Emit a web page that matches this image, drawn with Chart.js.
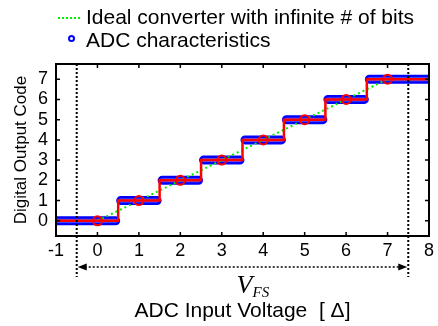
<!DOCTYPE html>
<html>
<head>
<meta charset="utf-8">
<script src="https://cdn.jsdelivr.net/npm/chart.js@4.4.0/dist/chart.umd.min.js"></script>
<style>
  html, body { margin: 0; padding: 0; background: #fff; }
</style>
</head>
<body>
<canvas id="adcChart" width="438" height="326"></canvas>
<script>
const xTicks = [-1, 0, 1, 2, 3, 4, 5, 6, 7, 8];
const yTicks = [0, 1, 2, 3, 4, 5, 6, 7];

// ideal converter, straight line
const idealIn = [0, 7];
const idealOut = [0, 7];

// quantizer staircase (red) and its circled points
const stairIn = [-1, 0, 1, 2, 3, 4, 5, 6, 7, 8];
const stairOut = [0, 0, 1, 2, 3, 4, 5, 6, 7, 7];
const stairMarked = [false, true, true, true, true, true, true, true, true, false];

// ADC characteristics: runs of samples at each output code
const adcCodes = [0, 1, 2, 3, 4, 5, 6, 7];
const adcFrom = [-1, 0.56, 1.56, 2.56, 3.56, 4.56, 5.56, 6.56];
const adcTo = [0.44, 1.44, 2.44, 3.44, 4.44, 5.44, 6.44, 8];

// full scale range markers
const vfsEdges = [-0.5, 7.5];

const FONT = 'Arial, "Liberation Sans", Helvetica, sans-serif';
const SERIF = '"Times New Roman", "Liberation Serif", Times, serif';
Chart.defaults.font.family = FONT;
Chart.defaults.color = '#000';

const adcRuns = [];
adcCodes.forEach((c, i) => {
    adcRuns.push({ x: adcFrom[i], y: c }, { x: adcTo[i], y: c }, { x: adcTo[i], y: null });
});

const extras = {
    id: 'extras',
    afterDatasetsDraw(chart) {
        const { ctx, chartArea: a, scales: { x, y } } = chart;
        ctx.save();

        // inward tick marks on all four sides
        ctx.strokeStyle = '#000';
        ctx.lineWidth = 1.5;
        ctx.beginPath();
        x.ticks.forEach(t => {
            const px = x.getPixelForValue(t.value);
            ctx.moveTo(px, a.bottom); ctx.lineTo(px, a.bottom - 4);
            ctx.moveTo(px, a.top); ctx.lineTo(px, a.top + 4);
        });
        y.ticks.forEach(t => {
            const py = y.getPixelForValue(t.value);
            ctx.moveTo(a.left, py); ctx.lineTo(a.left + 4, py);
            ctx.moveTo(a.right, py); ctx.lineTo(a.right - 4, py);
        });
        ctx.stroke();

        // V_FS boundaries
        const x0 = x.getPixelForValue(vfsEdges[0]);
        const x1 = x.getPixelForValue(vfsEdges[1]);
        ctx.setLineDash([2, 2]);
        ctx.lineWidth = 2;
        ctx.beginPath();
        ctx.moveTo(x0, a.top); ctx.lineTo(x0, a.bottom + 41);
        ctx.moveTo(x1, a.top); ctx.lineTo(x1, a.bottom + 41);
        ctx.stroke();

        // double arrow
        const ay = a.bottom + 31;
        ctx.lineWidth = 1.5;
        ctx.beginPath();
        ctx.moveTo(x0 + 8, ay); ctx.lineTo(x1 - 8, ay);
        ctx.stroke();
        ctx.setLineDash([]);
        ctx.fillStyle = '#000';
        ctx.beginPath();
        ctx.moveTo(x0 + 1, ay); ctx.lineTo(x0 + 10, ay - 3.5); ctx.lineTo(x0 + 10, ay + 3.5); ctx.closePath();
        ctx.moveTo(x1 - 1, ay); ctx.lineTo(x1 - 10, ay - 3.5); ctx.lineTo(x1 - 10, ay + 3.5); ctx.closePath();
        ctx.fill();

        // V_FS label
        const cx = (x0 + x1) / 2;
        ctx.textBaseline = 'alphabetic';
        ctx.textAlign = 'left';
        ctx.font = 'italic 26px ' + SERIF;
        ctx.fillText('V', cx - 6, a.bottom + 57);
        ctx.font = 'italic 15px ' + SERIF;
        ctx.fillText('FS', cx + 10, a.bottom + 61);

        // frame
        ctx.lineWidth = 2;
        ctx.strokeRect(a.left, a.top, a.right - a.left, a.bottom - a.top);
        ctx.restore();
    },
    afterDraw(chart) {
        const { ctx } = chart;
        const ds = chart.data.datasets;
        ctx.save();
        ctx.font = '21px ' + FONT;
        ctx.fillStyle = '#000';
        ctx.textBaseline = 'alphabetic';
        ctx.fillText(ds[1].label, 86, 24);
        ctx.fillText(ds[3].label, 86, 47);

        ctx.strokeStyle = ds[1].borderColor;
        ctx.lineWidth = 2;
        ctx.setLineDash([2, 2]);
        ctx.beginPath();
        ctx.moveTo(58, 18); ctx.lineTo(81, 18);
        ctx.stroke();

        ctx.setLineDash([]);
        ctx.strokeStyle = ds[3].borderColor;
        ctx.beginPath();
        ctx.arc(71.5, 38.5, 2.5, 0, Math.PI * 2);
        ctx.stroke();
        ctx.restore();
    }
};

new Chart(document.getElementById('adcChart'), {
    type: 'line',
    data: {
        datasets: [
            {
                label: 'Quantizer',
                data: stairIn.map((v, i) => ({ x: v, y: stairOut[i] })),
                stepped: 'middle',
                borderColor: '#ff0000',
                borderWidth: 2.5,
                pointRadius: stairMarked.map(m => m ? 4.5 : 0),
                pointBorderColor: '#ff0000',
                pointBackgroundColor: 'rgba(0,0,0,0)',
                pointBorderWidth: 2,
                clip: 0
            },
            {
                label: 'Ideal converter with infinite # of bits',
                data: idealIn.map((v, i) => ({ x: v, y: idealOut[i] })),
                borderColor: '#00ee00',
                borderWidth: 2,
                borderDash: [2, 3],
                pointRadius: 0,
                clip: 0
            },
            {
                label: 'ADC inner',
                data: adcRuns,
                borderColor: '#5a5aff',
                borderWidth: 4,
                borderCapStyle: 'round',
                spanGaps: false,
                pointRadius: 0,
                clip: 0
            },
            {
                label: 'ADC characteristics',
                data: adcRuns,
                borderColor: '#0000ff',
                borderWidth: 9,
                borderCapStyle: 'round',
                spanGaps: false,
                pointRadius: 0,
                clip: 0
            }
        ]
    },
    options: {
        responsive: false,
        animation: false,
        events: [],
        layout: { padding: { top: 64, right: 7, left: 0, bottom: 0 } },
        plugins: { legend: { display: false }, tooltip: { enabled: false } },
        scales: {
            x: {
                type: 'linear',
                min: -1,
                max: 8,
                afterBuildTicks: s => { s.ticks = xTicks.map(v => ({ value: v })); },
                afterFit: s => { s.height = 90; },
                grid: { display: false, drawTicks: false },
                border: { display: false },
                ticks: { padding: 4, font: { size: 18 }, maxRotation: 0, autoSkip: false },
                title: { display: true, text: 'ADC Input Voltage  [ Δ]', font: { size: 21 }, padding: { top: 0, bottom: 2 } }
            },
            y: {
                type: 'linear',
                min: -0.75,
                max: 7.75,
                afterBuildTicks: s => { s.ticks = yTicks.map(v => ({ value: v })); },
                afterFit: s => { s.width = 56; },
                grid: { display: false, drawTicks: false },
                border: { display: false },
                ticks: { padding: 8, font: { size: 18 }, autoSkip: false },
                title: { display: true, text: 'Digital Output Code', font: { size: 17 }, padding: { top: 11, bottom: 0 } }
            }
        }
    },
    plugins: [extras]
});
</script>
</body>
</html>
